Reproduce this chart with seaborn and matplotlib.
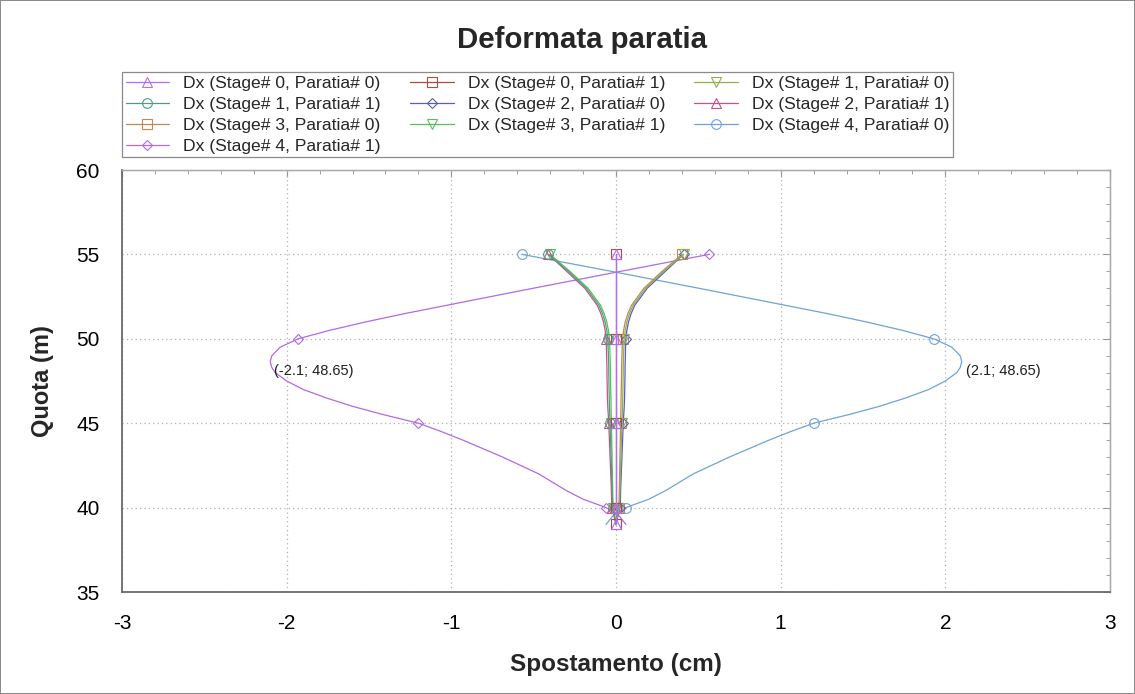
import numpy as np
import pandas as pd
import matplotlib
matplotlib.use("Agg")
import matplotlib.pyplot as plt
from matplotlib.lines import Line2D
from matplotlib.ticker import MultipleLocator
import seaborn as sns

# ---------------- data ----------------
quota = [55, 54, 53, 52, 51.5, 51, 50.5, 50, 49.5, 49, 48.65, 48.3, 48, 47.5, 47, 46.5,
         46, 45.5, 45, 44.5, 44, 43, 42, 41, 40.5, 40, 39.5, 39.0]
marker_idx = [0, 7, 18, 25]

series_labels = [
    "Dx (Stage# 0, Paratia# 0)", "Dx (Stage# 0, Paratia# 1)", "Dx (Stage# 1, Paratia# 0)",
    "Dx (Stage# 1, Paratia# 1)", "Dx (Stage# 2, Paratia# 0)", "Dx (Stage# 2, Paratia# 1)",
    "Dx (Stage# 3, Paratia# 0)", "Dx (Stage# 3, Paratia# 1)", "Dx (Stage# 4, Paratia# 0)",
    "Dx (Stage# 4, Paratia# 1)",
]

dx_s0_p0 = [0.0] * 28
dx_s0_p1 = [0.0] * 28
dx_s1_p0 = [0.41, 0.29, 0.18, 0.105, 0.082, 0.066, 0.056, 0.050, 0.048, 0.046, 0.045, 0.044,
            0.044, 0.043, 0.042, 0.041, 0.040, 0.038, 0.036, 0.035, 0.033, 0.030, 0.027,
            0.024, 0.022, 0.020, 0.010, 0.0]
dx_s1_p1 = [-0.41, -0.29, -0.18, -0.105, -0.082, -0.066, -0.056, -0.050, -0.048, -0.046,
            -0.045, -0.044, -0.044, -0.043, -0.042, -0.041, -0.040, -0.038, -0.036, -0.035,
            -0.033, -0.030, -0.027, -0.024, -0.022, -0.020, -0.010, 0.0]
dx_s2_p0 = [0.41, 0.30, 0.19, 0.115, 0.092, 0.076, 0.066, 0.060, 0.058, 0.057, 0.056, 0.055,
            0.055, 0.054, 0.053, 0.052, 0.050, 0.047, 0.044, 0.042, 0.040, 0.036, 0.032,
            0.028, 0.027, 0.025, 0.012, 0.0]
dx_s2_p1 = [-0.41, -0.30, -0.19, -0.115, -0.092, -0.076, -0.066, -0.060, -0.058, -0.057,
            -0.056, -0.055, -0.055, -0.054, -0.053, -0.052, -0.050, -0.047, -0.044, -0.042,
            -0.040, -0.036, -0.032, -0.028, -0.027, -0.025, -0.012, 0.0]
dx_s3_p0 = [0.40, 0.28, 0.17, 0.095, 0.072, 0.056, 0.046, 0.040, 0.038, 0.036, 0.035, 0.034,
            0.034, 0.033, 0.032, 0.031, 0.030, 0.029, 0.028, 0.027, 0.026, 0.024, 0.022,
            0.020, 0.019, 0.017, 0.008, 0.0]
dx_s3_p1 = [-0.40, -0.28, -0.17, -0.095, -0.072, -0.056, -0.046, -0.040, -0.038, -0.036,
            -0.035, -0.034, -0.034, -0.033, -0.032, -0.031, -0.030, -0.029, -0.028, -0.027,
            -0.026, -0.024, -0.022, -0.020, -0.019, -0.017, -0.008, 0.0]
dx_s4_p0 = [-0.57, -0.03, 0.50, 1.02, 1.28, 1.52, 1.74, 1.93, 2.04, 2.09, 2.10, 2.09, 2.07,
            2.00, 1.90, 1.76, 1.60, 1.41, 1.20, 1.06, 0.93, 0.69, 0.47, 0.30, 0.20, 0.06,
            -0.02, -0.06]
dx_s4_p1 = [0.565, 0.03, -0.50, -1.02, -1.28, -1.52, -1.74, -1.93, -2.04, -2.09, -2.10,
            -2.09, -2.07, -2.00, -1.90, -1.76, -1.60, -1.41, -1.20, -1.06, -0.93, -0.69,
            -0.47, -0.30, -0.20, -0.06, 0.02, 0.06]

all_dx = [dx_s0_p0, dx_s0_p1, dx_s1_p0, dx_s1_p1, dx_s2_p0, dx_s2_p1,
          dx_s3_p0, dx_s3_p1, dx_s4_p0, dx_s4_p1]

annot_labels = ["(-2.1; 48.65)", "(2.1; 48.65)"]
annot_x = [-2.1, 2.1]
annot_y = [48.65, 48.65]

x_ticks = [-3, -2, -1, 0, 1, 2, 3]
y_ticks = [35, 40, 45, 50, 55, 60]

# ---------------- style ----------------
colors = ["#b36ef0", "#b04848", "#8fb04a", "#4aa07e", "#5a5ac8", "#c8508e",
          "#c08a52", "#58c058", "#6fa3d8", "#b06ae6"]
markers = ["^", "s", "v", "o", "D", "^", "s", "v", "o", "D"]
msizes = [7, 6.5, 7, 7, 5.5, 7, 6.5, 7, 7, 5.5]

sns.set_style("white")
plt.rcParams["font.family"] = ["Liberation Sans", "DejaVu Sans"]
plt.rcParams["axes.unicode_minus"] = False

fig = plt.figure(figsize=(11.35, 6.94), dpi=100)
fig.patch.set_facecolor("white")
fig.patch.set_edgecolor("#8a8a8a")
fig.patch.set_linewidth(1.2)

ax = fig.add_axes([122 / 1135, 1 - 592 / 694, (1110 - 122) / 1135, (592 - 170) / 694])

rows = []
for lab, dx in zip(series_labels, all_dx):
    for q, v in zip(quota, dx):
        rows.append({"serie": lab, "Dx": v, "Quota": q})
df = pd.DataFrame(rows)

for i in reversed(range(len(series_labels))):
    lab = series_labels[i]
    sub = df[df["serie"] == lab]
    me = marker_idx + [len(quota) - 1] if i < 2 else marker_idx
    sns.lineplot(data=sub, x="Dx", y="Quota", sort=False, estimator=None, ax=ax,
                 color=colors[i], linewidth=0.9, marker=markers[i], markersize=msizes[i],
                 markerfacecolor="none", markeredgecolor=colors[i], markeredgewidth=0.8,
                 markevery=me, legend=False)

for t, xv, yv in zip(annot_labels, annot_x, annot_y):
    ax.annotate(t, xy=(xv, yv), xytext=(3, -1.5), textcoords="offset points",
                ha="left", va="top", fontsize=10.5, color="#202020")

ax.set_xlim(-3, 3)
ax.set_ylim(35, 60)
ax.set_xticks(x_ticks)
ax.set_yticks(y_ticks)
ax.set_xticklabels([str(v) for v in x_ticks])
ax.set_yticklabels([str(v) for v in y_ticks])
ax.xaxis.set_minor_locator(MultipleLocator(0.2))
ax.yaxis.set_minor_locator(MultipleLocator(1))
ax.grid(True, which="major", linestyle=(0, (1, 2.5)), color="#b0b0b0", linewidth=0.9)
ax.set_axisbelow(True)

for s in ["left", "bottom"]:
    ax.spines[s].set_color("#6a6a6a")
    ax.spines[s].set_linewidth(1.3)
for s in ["top", "right"]:
    ax.spines[s].set_color("#a8a8a8")
    ax.spines[s].set_linewidth(1.0)

ax.tick_params(which="major", direction="inout", length=12, width=1.0, color="#6a6a6a",
               labelsize=15, labelcolor="black", top=False, right=False)
ax.tick_params(which="minor", direction="inout", length=6, width=0.9, color="#6a6a6a",
               top=False, right=False)
ax.tick_params(axis="x", which="major", pad=10)
ax.tick_params(axis="y", which="major", pad=10)

secx = ax.secondary_xaxis("top")
secx.set_xticks(x_ticks)
secx.set_xticklabels([])
secx.xaxis.set_minor_locator(MultipleLocator(0.2))
secx.tick_params(which="major", direction="in", length=5, color="#909090")
secx.tick_params(which="minor", direction="in", length=3, color="#909090")
secx.spines["top"].set_color("#a8a8a8")

secy = ax.secondary_yaxis("right")
secy.set_yticks(y_ticks)
secy.set_yticklabels([])
secy.yaxis.set_minor_locator(MultipleLocator(1))
secy.tick_params(which="major", direction="in", length=5, color="#909090")
secy.tick_params(which="minor", direction="in", length=3, color="#909090")
secy.spines["right"].set_color("#a8a8a8")

ax.set_xlabel("Spostamento (cm)", fontsize=17.5, fontweight="bold", labelpad=14)
ax.set_ylabel("Quota (m)", fontsize=17, fontweight="bold", labelpad=16)

fig.text(582 / 1135, 1 - 40 / 694, "Deformata paratia", ha="center", va="center",
         fontsize=21.2, fontweight="bold")

handles = [Line2D([], [], color=colors[i], linewidth=0.9, marker=markers[i],
                  markersize=msizes[i], markerfacecolor="none",
                  markeredgewidth=0.8) for i in range(len(series_labels))]
order = [0, 3, 6, 9, 1, 4, 7, 2, 5, 8]
leg = fig.legend([handles[k] for k in order], [series_labels[k] for k in order],
                 loc="upper left", ncol=3,
                 bbox_to_anchor=(122 / 1135, 1 - 72 / 694), fontsize=12.6,
                 frameon=True, fancybox=False, edgecolor="#8a8a8a", framealpha=1,
                 handlelength=2.5, columnspacing=1.65, labelspacing=0.33,
                 borderpad=0.2, handletextpad=0.8, borderaxespad=0)
leg.get_frame().set_linewidth(0.9)

fig.savefig("out.png", dpi=100, facecolor="white", edgecolor="#8a8a8a")
